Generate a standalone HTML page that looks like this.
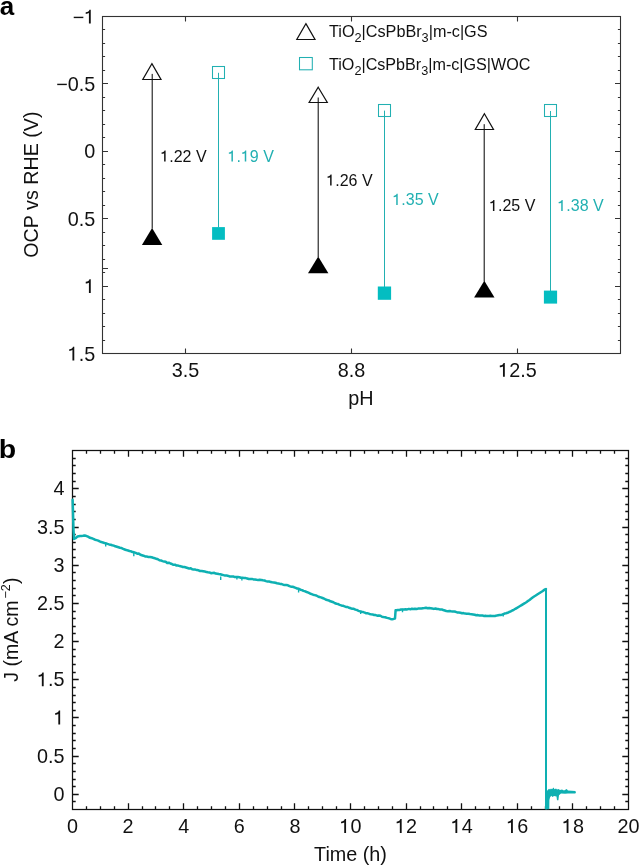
<!DOCTYPE html>
<html><head><meta charset="utf-8"><style>
html,body{margin:0;padding:0;background:#fff;width:639px;height:866px;overflow:hidden}
svg{display:block;font-family:"Liberation Sans", sans-serif;will-change:transform}
</style></head><body>
<svg width="639" height="866" viewBox="0 0 639 866">
<rect width="639" height="866" fill="#fff"/>
<rect x="102.5" y="16.5" width="518.0" height="337.0" fill="none" stroke="#333" stroke-width="1.1"/>
<path d="M102.5 29.50h2.6M620.5 29.50h-2.6M102.5 43.50h2.6M620.5 43.50h-2.6M102.5 56.50h2.6M620.5 56.50h-2.6M102.5 70.50h2.6M620.5 70.50h-2.6M102.5 83.50h5.5M620.5 83.50h-5.5M102.5 97.50h2.6M620.5 97.50h-2.6M102.5 110.50h2.6M620.5 110.50h-2.6M102.5 124.50h2.6M620.5 124.50h-2.6M102.5 137.50h2.6M620.5 137.50h-2.6M102.5 151.50h5.5M620.5 151.50h-5.5M102.5 164.50h2.6M620.5 164.50h-2.6M102.5 178.50h2.6M620.5 178.50h-2.6M102.5 191.50h2.6M620.5 191.50h-2.6M102.5 205.50h2.6M620.5 205.50h-2.6M102.5 218.50h5.5M620.5 218.50h-5.5M102.5 232.50h2.6M620.5 232.50h-2.6M102.5 245.50h2.6M620.5 245.50h-2.6M102.5 259.50h2.6M620.5 259.50h-2.6M102.5 272.50h2.6M620.5 272.50h-2.6M102.5 286.50h5.5M620.5 286.50h-5.5M102.5 299.50h2.6M620.5 299.50h-2.6M102.5 313.50h2.6M620.5 313.50h-2.6M102.5 326.50h2.6M620.5 326.50h-2.6M102.5 340.50h2.6M620.5 340.50h-2.6M102.5 268.5h5.5M185.5 353.5v-5M185.5 16.5v5M351.5 353.5v-5M351.5 16.5v5M517.5 353.5v-5M517.5 16.5v5" stroke="#333" stroke-width="1.1" fill="none"/>
<text x="95.2" y="23.5" font-size="19.8" text-anchor="end" fill="#111" font-weight="normal" >− </text>
<text x="95.2" y="90.9" font-size="19.8" text-anchor="end" fill="#111" font-weight="normal" >−0.5</text>
<text x="95.2" y="158.3" font-size="19.8" text-anchor="end" fill="#111" font-weight="normal" >0</text>
<text x="95.2" y="225.7" font-size="19.8" text-anchor="end" fill="#111" font-weight="normal" >0.5</text>
<text x="95.2" y="293.1" font-size="19.8" text-anchor="end" fill="#111" font-weight="normal" > </text>
<text x="95.2" y="360.5" font-size="19.8" text-anchor="end" fill="#111" font-weight="normal" > .5</text>
<text x="185.4" y="376.8" font-size="19.8" text-anchor="middle" fill="#111" font-weight="normal" >3.5</text>
<text x="351.5" y="376.8" font-size="19.8" text-anchor="middle" fill="#111" font-weight="normal" >8.8</text>
<text x="517.5" y="376.8" font-size="19.8" text-anchor="middle" fill="#111" font-weight="normal" > 2.5</text>
<text x="361.0" y="405.2" font-size="19.8" text-anchor="middle" fill="#111" font-weight="normal" >pH</text>
<text transform="translate(38.0 184.6) rotate(-90)" font-size="19.7" text-anchor="middle" fill="#111">OCP vs RHE (V)</text>
<text transform="translate(-0.3 15.0) scale(1.0 1)" font-size="26" font-weight="bold" fill="#000">a</text>
<path d="M152.2 73.9V228.5" stroke="#000" stroke-width="1"/>
<path d="M318.2 97.5V257" stroke="#000" stroke-width="1"/>
<path d="M484.2 124.2V281.5" stroke="#000" stroke-width="1"/>
<path d="M218.5 72.8V227.5" stroke="#22b0b2" stroke-width="1.05"/>
<path d="M384.5 110.6V287" stroke="#22b0b2" stroke-width="1.05"/>
<path d="M550.5 111.0V291" stroke="#22b0b2" stroke-width="1.05"/>
<path d="M151.9 63.6L161.0 79.5L142.8 79.5Z" fill="none" stroke="#111" stroke-width="1.2"/>
<path d="M318.2 87.2L327.3 102.5L309.09999999999997 102.5Z" fill="none" stroke="#111" stroke-width="1.2"/>
<path d="M484.4 113.80000000000001L493.5 129.5L475.29999999999995 129.5Z" fill="none" stroke="#111" stroke-width="1.2"/>
<path d="M152.1 227.9L162.29999999999998 245.1L141.9 245.1Z" fill="#000"/>
<path d="M318.2 256.4L328.4 273.2L308.0 273.2Z" fill="#000"/>
<path d="M484.3 280.7L494.5 297.6L474.1 297.6Z" fill="#000"/>
<rect x="212.5" y="66.5" width="12.0" height="12.0" fill="none" stroke="#22b0b2" stroke-width="1.05"/>
<rect x="378.5" y="104.5" width="12.0" height="12.0" fill="none" stroke="#22b0b2" stroke-width="1.05"/>
<rect x="544.5" y="104.5" width="12.0" height="12.0" fill="none" stroke="#22b0b2" stroke-width="1.05"/>
<rect x="212.1" y="227.1" width="12.800000000000011" height="12.700000000000017" fill="#04bdc1"/>
<rect x="377.8" y="286.5" width="13.300000000000011" height="13.300000000000011" fill="#04bdc1"/>
<rect x="543.9" y="290.6" width="13.200000000000045" height="13.0" fill="#04bdc1"/>
<text x="160.29999999999998" y="161.6" font-size="16" text-anchor="start" fill="#111" font-weight="normal" > .22 V</text>
<text x="227.6" y="161.6" font-size="16" text-anchor="start" fill="#22b0b2" font-weight="normal" > . 9 V</text>
<text x="326.3" y="185.6" font-size="16" text-anchor="start" fill="#111" font-weight="normal" > .26 V</text>
<text x="392.4" y="205.0" font-size="16" text-anchor="start" fill="#22b0b2" font-weight="normal" > .35 V</text>
<text x="489.09999999999997" y="211.1" font-size="16" text-anchor="start" fill="#111" font-weight="normal" > .25 V</text>
<text x="557.4000000000001" y="211.1" font-size="16" text-anchor="start" fill="#22b0b2" font-weight="normal" > .38 V</text>
<path d="M305.9 23.599999999999998L315.0 39.5L296.79999999999995 39.5Z" fill="none" stroke="#111" stroke-width="1.2"/>
<rect x="299.5" y="57.5" width="12.800000000000011" height="12.299999999999997" fill="none" stroke="#22b0b2" stroke-width="1.05"/>
<text x="329.0" y="37.0" font-size="16.3" fill="#111" textLength="158.5" lengthAdjust="spacingAndGlyphs">TiO<tspan font-size="12.8" dy="4.6">2</tspan><tspan dy="-4.6">|CsPbBr</tspan><tspan font-size="12.8" dy="4.6">3</tspan><tspan dy="-4.6">|m-c|GS</tspan></text>
<text x="329.0" y="69.9" font-size="16.3" fill="#111" textLength="201.5" lengthAdjust="spacingAndGlyphs">TiO<tspan font-size="12.8" dy="4.6">2</tspan><tspan dy="-4.6">|CsPbBr</tspan><tspan font-size="12.8" dy="4.6">3</tspan><tspan dy="-4.6">|m-c|GS|WOC</tspan></text>
<rect x="72.5" y="450.5" width="556.0" height="359.0" fill="none" stroke="#111" stroke-width="1.25"/>
<path d="M72.5 801.50h3.2M628.5 801.50h-3.2M72.5 794.50h6.2M628.5 794.50h-6.2M72.5 786.50h3.2M628.5 786.50h-3.2M72.5 779.50h3.2M628.5 779.50h-3.2M72.5 771.50h3.2M628.5 771.50h-3.2M72.5 763.50h3.2M628.5 763.50h-3.2M72.5 756.50h6.2M628.5 756.50h-6.2M72.5 748.50h3.2M628.5 748.50h-3.2M72.5 740.50h3.2M628.5 740.50h-3.2M72.5 733.50h3.2M628.5 733.50h-3.2M72.5 725.50h3.2M628.5 725.50h-3.2M72.5 717.50h6.2M628.5 717.50h-6.2M72.5 710.50h3.2M628.5 710.50h-3.2M72.5 702.50h3.2M628.5 702.50h-3.2M72.5 695.50h3.2M628.5 695.50h-3.2M72.5 687.50h3.2M628.5 687.50h-3.2M72.5 679.50h6.2M628.5 679.50h-6.2M72.5 672.50h3.2M628.5 672.50h-3.2M72.5 664.50h3.2M628.5 664.50h-3.2M72.5 656.50h3.2M628.5 656.50h-3.2M72.5 649.50h3.2M628.5 649.50h-3.2M72.5 641.50h6.2M628.5 641.50h-6.2M72.5 633.50h3.2M628.5 633.50h-3.2M72.5 626.50h3.2M628.5 626.50h-3.2M72.5 618.50h3.2M628.5 618.50h-3.2M72.5 611.50h3.2M628.5 611.50h-3.2M72.5 603.50h6.2M628.5 603.50h-6.2M72.5 595.50h3.2M628.5 595.50h-3.2M72.5 588.50h3.2M628.5 588.50h-3.2M72.5 580.50h3.2M628.5 580.50h-3.2M72.5 572.50h3.2M628.5 572.50h-3.2M72.5 565.50h6.2M628.5 565.50h-6.2M72.5 557.50h3.2M628.5 557.50h-3.2M72.5 549.50h3.2M628.5 549.50h-3.2M72.5 542.50h3.2M628.5 542.50h-3.2M72.5 534.50h3.2M628.5 534.50h-3.2M72.5 527.50h6.2M628.5 527.50h-6.2M72.5 519.50h3.2M628.5 519.50h-3.2M72.5 511.50h3.2M628.5 511.50h-3.2M72.5 504.50h3.2M628.5 504.50h-3.2M72.5 496.50h3.2M628.5 496.50h-3.2M72.5 488.50h6.2M628.5 488.50h-6.2M72.5 481.50h3.2M628.5 481.50h-3.2M72.5 473.50h3.2M628.5 473.50h-3.2M72.5 465.50h3.2M628.5 465.50h-3.2M72.5 458.50h3.2M628.5 458.50h-3.2M86.50 809.5v-3.2M86.50 450.5v3.2M100.50 809.5v-3.2M100.50 450.5v3.2M114.50 809.5v-3.2M114.50 450.5v3.2M128.50 809.5v-6.2M128.50 450.5v6.2M142.50 809.5v-3.2M142.50 450.5v3.2M155.50 809.5v-3.2M155.50 450.5v3.2M169.50 809.5v-3.2M169.50 450.5v3.2M183.50 809.5v-6.2M183.50 450.5v6.2M197.50 809.5v-3.2M197.50 450.5v3.2M211.50 809.5v-3.2M211.50 450.5v3.2M225.50 809.5v-3.2M225.50 450.5v3.2M239.50 809.5v-6.2M239.50 450.5v6.2M253.50 809.5v-3.2M253.50 450.5v3.2M267.50 809.5v-3.2M267.50 450.5v3.2M281.50 809.5v-3.2M281.50 450.5v3.2M294.50 809.5v-6.2M294.50 450.5v6.2M308.50 809.5v-3.2M308.50 450.5v3.2M322.50 809.5v-3.2M322.50 450.5v3.2M336.50 809.5v-3.2M336.50 450.5v3.2M350.50 809.5v-6.2M350.50 450.5v6.2M364.50 809.5v-3.2M364.50 450.5v3.2M378.50 809.5v-3.2M378.50 450.5v3.2M392.50 809.5v-3.2M392.50 450.5v3.2M406.50 809.5v-6.2M406.50 450.5v6.2M420.50 809.5v-3.2M420.50 450.5v3.2M433.50 809.5v-3.2M433.50 450.5v3.2M447.50 809.5v-3.2M447.50 450.5v3.2M461.50 809.5v-6.2M461.50 450.5v6.2M475.50 809.5v-3.2M475.50 450.5v3.2M489.50 809.5v-3.2M489.50 450.5v3.2M503.50 809.5v-3.2M503.50 450.5v3.2M517.50 809.5v-6.2M517.50 450.5v6.2M531.50 809.5v-3.2M531.50 450.5v3.2M545.50 809.5v-3.2M545.50 450.5v3.2M559.50 809.5v-3.2M559.50 450.5v3.2M572.50 809.5v-6.2M572.50 450.5v6.2M586.50 809.5v-3.2M586.50 450.5v3.2M600.50 809.5v-3.2M600.50 450.5v3.2M614.50 809.5v-3.2M614.50 450.5v3.2" stroke="#111" stroke-width="1.3" fill="none"/>
<text x="64.6" y="800.8" font-size="19.8" text-anchor="end" fill="#111" font-weight="normal" >0</text>
<text x="64.6" y="762.625" font-size="19.8" text-anchor="end" fill="#111" font-weight="normal" >0.5</text>
<text x="64.6" y="724.4499999999999" font-size="19.8" text-anchor="end" fill="#111" font-weight="normal" > </text>
<text x="64.6" y="686.275" font-size="19.8" text-anchor="end" fill="#111" font-weight="normal" > .5</text>
<text x="64.6" y="648.0999999999999" font-size="19.8" text-anchor="end" fill="#111" font-weight="normal" >2</text>
<text x="64.6" y="609.925" font-size="19.8" text-anchor="end" fill="#111" font-weight="normal" >2.5</text>
<text x="64.6" y="571.75" font-size="19.8" text-anchor="end" fill="#111" font-weight="normal" >3</text>
<text x="64.6" y="533.575" font-size="19.8" text-anchor="end" fill="#111" font-weight="normal" >3.5</text>
<text x="64.6" y="495.4" font-size="19.8" text-anchor="end" fill="#111" font-weight="normal" >4</text>
<text x="72.5" y="832.9" font-size="19.8" text-anchor="middle" fill="#111" font-weight="normal" >0</text>
<text x="128.1" y="832.9" font-size="19.8" text-anchor="middle" fill="#111" font-weight="normal" >2</text>
<text x="183.7" y="832.9" font-size="19.8" text-anchor="middle" fill="#111" font-weight="normal" >4</text>
<text x="239.3" y="832.9" font-size="19.8" text-anchor="middle" fill="#111" font-weight="normal" >6</text>
<text x="294.9" y="832.9" font-size="19.8" text-anchor="middle" fill="#111" font-weight="normal" >8</text>
<text x="350.5" y="832.9" font-size="19.8" text-anchor="middle" fill="#111" font-weight="normal" > 0</text>
<text x="406.1" y="832.9" font-size="19.8" text-anchor="middle" fill="#111" font-weight="normal" > 2</text>
<text x="461.7" y="832.9" font-size="19.8" text-anchor="middle" fill="#111" font-weight="normal" > 4</text>
<text x="517.3" y="832.9" font-size="19.8" text-anchor="middle" fill="#111" font-weight="normal" > 6</text>
<text x="572.9" y="832.9" font-size="19.8" text-anchor="middle" fill="#111" font-weight="normal" > 8</text>
<text x="628.5" y="832.9" font-size="19.8" text-anchor="middle" fill="#111" font-weight="normal" >20</text>
<text x="350.5" y="861.4" font-size="19.8" text-anchor="middle" fill="#111" font-weight="normal" >Time (h)</text>
<text transform="translate(18.4 629.6) rotate(-90)" font-size="19.5" text-anchor="middle" fill="#111">J (mA cm<tspan font-size="12.5" dy="-8.2" dx="1.8">−2</tspan><tspan dy="8.2" dx="0.3">)</tspan></text>
<text transform="translate(-1.3 457.6) scale(1.07 1)" font-size="26.6" font-weight="bold" fill="#000">b</text>
<path d="M72.6 499.8L73.0 512.0L73.5 530.0L74.0 539.0L75.5 538.2L77.5 536.6L80.0 536.1L81.5 535.9L83.0 535.8L84.5 535.5L86.0 535.8L88.0 536.7L90.0 537.8L91.7 538.2L93.3 538.8L95.0 539.7L96.6 540.1L98.2 540.6L99.7 541.4L101.3 542.1L102.8 542.4L104.4 543.0L106.0 543.3L107.5 543.9L109.1 544.4L110.7 544.7L112.2 545.2L113.8 545.6L115.3 546.3L116.9 546.8L118.5 547.3L120.0 547.8L121.6 548.1L123.2 548.9L124.7 549.5L126.3 550.1L127.9 550.4L129.4 551.0L131.0 551.3L132.6 552.1L134.2 552.3L135.7 552.9L137.2 553.7L138.8 553.6L140.4 554.7L141.9 555.2L143.5 555.7L145.1 556.4L146.7 556.6L148.4 556.9L150.0 557.0L151.6 557.3L153.2 557.8L154.7 558.2L156.3 558.8L157.9 559.3L159.4 560.2L160.9 560.4L162.5 561.1L164.1 561.6L165.7 561.8L167.2 563.0L168.8 562.7L170.4 563.5L171.9 564.0L173.4 564.8L175.0 564.7L176.6 565.6L178.2 565.6L179.7 566.1L181.3 566.4L182.9 567.0L184.4 567.0L186.0 567.5L187.6 568.0L189.2 568.6L190.7 568.2L192.2 569.3L193.8 569.6L195.4 569.6L196.9 570.1L198.5 570.3L200.1 571.0L201.7 571.0L203.2 571.3L204.8 571.6L206.3 571.9L207.9 572.2L209.4 572.4L211.0 573.2L212.6 572.9L214.2 572.8L215.7 573.6L217.2 573.8L218.8 574.1L220.4 574.3L221.9 574.7L223.5 575.1L225.1 575.6L226.7 575.6L228.4 575.9L230.0 576.6L231.6 576.5L233.2 576.4L234.7 577.1L236.3 577.0L237.9 577.0L239.4 577.2L240.9 577.7L242.5 577.8L244.1 577.9L245.7 578.1L247.2 578.5L248.8 579.0L250.4 578.9L251.9 578.9L253.4 579.4L255.0 579.4L256.6 579.7L258.1 579.9L259.7 579.8L261.3 580.0L262.9 580.3L264.5 580.5L266.0 581.1L267.6 581.5L269.2 581.6L270.7 581.9L272.2 582.2L273.8 582.4L275.4 582.7L277.0 583.2L278.5 583.5L280.1 583.9L281.7 584.1L283.2 584.7L284.8 585.0L286.3 585.1L287.9 585.3L289.5 586.1L291.0 586.7L292.6 586.8L294.2 587.3L295.7 587.9L297.2 588.6L298.8 588.8L300.4 589.7L302.0 590.1L303.5 590.9L305.1 591.3L306.7 592.0L308.4 592.6L310.0 593.5L311.6 594.1L313.1 594.7L314.7 595.1L316.3 595.5L317.9 596.3L319.4 597.0L320.9 597.4L322.5 598.0L324.1 598.7L325.6 599.5L327.2 600.1L328.8 600.4L330.4 601.3L331.9 601.8L333.4 602.3L335.0 603.3L336.6 603.8L338.1 604.1L339.7 604.8L341.3 605.4L342.9 605.7L344.5 606.3L346.0 606.9L347.6 607.0L349.2 607.8L350.7 608.3L352.2 608.7L353.8 608.8L355.4 609.6L357.0 610.0L358.5 610.8L360.1 611.4L361.7 611.8L363.2 612.1L364.8 612.6L366.3 613.3L367.9 613.3L369.5 613.9L371.0 614.2L372.6 614.4L374.2 615.1L375.7 615.1L377.2 615.7L378.8 615.4L380.4 615.7L382.0 616.7L383.5 617.0L385.1 617.2L387.1 617.9L389.0 618.3L390.5 618.9L392.0 619.2L393.5 618.9L395.0 618.5L395.6 610.3L396.3 610.2L397.9 609.9L399.4 609.9L400.9 609.6L402.5 609.5L404.1 609.5L405.6 609.3L407.2 609.4L408.8 608.9L410.4 609.3L411.9 608.7L413.4 609.0L415.0 608.7L416.6 609.0L418.1 608.6L419.7 608.6L421.3 608.5L422.9 608.2L424.5 608.1L426.0 607.8L427.6 608.3L429.2 608.1L430.7 608.2L432.2 608.5L433.8 608.9L435.4 608.5L437.0 609.0L438.5 609.1L440.1 609.5L441.7 609.4L443.2 610.0L444.8 610.5L446.3 611.0L447.9 611.2L449.5 611.0L451.0 611.3L452.6 611.5L454.2 611.5L455.7 611.8L457.2 612.4L458.8 612.5L460.4 612.7L462.0 613.2L463.5 613.1L465.1 613.6L466.7 613.7L468.4 613.8L470.0 614.1L471.6 614.3L473.1 614.5L474.7 614.8L476.3 615.3L477.9 615.1L479.4 615.5L480.9 615.6L482.5 615.6L484.1 615.9L485.6 615.7L487.2 616.1L488.8 615.9L490.4 615.8L491.9 615.9L493.4 615.9L495.0 615.9L496.6 615.6L498.1 615.2L499.7 614.9L501.3 614.9L502.9 614.4L504.5 613.6L506.0 613.3L507.6 612.8L509.1 612.0L510.7 611.3L512.2 610.5L513.8 609.8L515.4 608.8L517.0 607.9L518.5 607.0L520.1 606.0L521.6 605.1L523.2 604.1L524.8 603.2L526.3 602.3L527.9 601.1L529.5 599.9L531.0 598.7L532.6 597.5L534.1 596.5L535.7 595.5L537.2 594.5L538.8 593.5L540.4 592.5L542.0 591.5L543.5 590.4L545.1 589.4L545.9 589.0" fill="none" stroke="#0eb0b2" stroke-width="2.5" stroke-linejoin="round" stroke-linecap="round"/>
<rect x="545" y="588.4" width="2" height="221" fill="#0eb0b2"/>
<path d="M105.7 543.0V546.5M133.8 552.8V556.3M220.7 576.5V580.0M236.9 575.9V579.4M241.9 577.1V580.6M298.6 589.0V592.5M360.7 610.5V614.0M402.5 608.7V612.2M503.2 613.0V616.5" fill="none" stroke="#0eb0b2" stroke-width="1.4"/>
<path d="M546.2 792.0L547.5 790.2L549.0 788.8L550.0 789.6L551.0 788.4L552.0 789.3L553.5 787.4L554.5 789.2L556.0 788.6L557.0 789.6L558.5 789.0L560.0 790.0L562.0 789.6L564.0 790.5L566.7 789.0L568.0 790.5L572.0 790.7L575.3 790.9L576.0 792.2L575.3 793.5L572.0 793.6L568.0 793.4L565.0 793.8L561.0 793.6L559.0 795.2L558.4 800.2L557.0 800.2L556.5 796.4L554.0 796.0L552.5 797.0L551.2 795.8L550.0 797.5L549.4 800.0L549.3 809.3L546.2 809.3Z" fill="#0eb0b2"/>
<g><path transform="translate(84.18 23.50) scale(0.00967 -0.00967)" d="M490 0L680 0L680 1430L545 1430C515 1300 400 1185 160 1165L160 995C300 995 420 1025 490 1075Z" fill="#111"/><path transform="translate(84.18 293.10) scale(0.00967 -0.00967)" d="M490 0L680 0L680 1430L545 1430C515 1300 400 1185 160 1165L160 995C300 995 420 1025 490 1075Z" fill="#111"/><path transform="translate(67.70 360.50) scale(0.00967 -0.00967)" d="M490 0L680 0L680 1430L545 1430C515 1300 400 1185 160 1165L160 995C300 995 420 1025 490 1075Z" fill="#111"/><path transform="translate(498.24 376.80) scale(0.00967 -0.00967)" d="M490 0L680 0L680 1430L545 1430C515 1300 400 1185 160 1165L160 995C300 995 420 1025 490 1075Z" fill="#111"/><path transform="translate(160.30 161.60) scale(0.00781 -0.00781)" d="M490 0L680 0L680 1430L545 1430C515 1300 400 1185 160 1165L160 995C300 995 420 1025 490 1075Z" fill="#111"/><path transform="translate(227.60 161.60) scale(0.00781 -0.00781)" d="M490 0L680 0L680 1430L545 1430C515 1300 400 1185 160 1165L160 995C300 995 420 1025 490 1075Z" fill="#22b0b2"/><path transform="translate(240.94 161.60) scale(0.00781 -0.00781)" d="M490 0L680 0L680 1430L545 1430C515 1300 400 1185 160 1165L160 995C300 995 420 1025 490 1075Z" fill="#22b0b2"/><path transform="translate(326.30 185.60) scale(0.00781 -0.00781)" d="M490 0L680 0L680 1430L545 1430C515 1300 400 1185 160 1165L160 995C300 995 420 1025 490 1075Z" fill="#111"/><path transform="translate(392.40 205.00) scale(0.00781 -0.00781)" d="M490 0L680 0L680 1430L545 1430C515 1300 400 1185 160 1165L160 995C300 995 420 1025 490 1075Z" fill="#22b0b2"/><path transform="translate(489.10 211.10) scale(0.00781 -0.00781)" d="M490 0L680 0L680 1430L545 1430C515 1300 400 1185 160 1165L160 995C300 995 420 1025 490 1075Z" fill="#111"/><path transform="translate(557.40 211.10) scale(0.00781 -0.00781)" d="M490 0L680 0L680 1430L545 1430C515 1300 400 1185 160 1165L160 995C300 995 420 1025 490 1075Z" fill="#22b0b2"/><path transform="translate(53.58 724.45) scale(0.00967 -0.00967)" d="M490 0L680 0L680 1430L545 1430C515 1300 400 1185 160 1165L160 995C300 995 420 1025 490 1075Z" fill="#111"/><path transform="translate(37.10 686.28) scale(0.00967 -0.00967)" d="M490 0L680 0L680 1430L545 1430C515 1300 400 1185 160 1165L160 995C300 995 420 1025 490 1075Z" fill="#111"/><path transform="translate(339.49 832.90) scale(0.00967 -0.00967)" d="M490 0L680 0L680 1430L545 1430C515 1300 400 1185 160 1165L160 995C300 995 420 1025 490 1075Z" fill="#111"/><path transform="translate(395.09 832.90) scale(0.00967 -0.00967)" d="M490 0L680 0L680 1430L545 1430C515 1300 400 1185 160 1165L160 995C300 995 420 1025 490 1075Z" fill="#111"/><path transform="translate(450.69 832.90) scale(0.00967 -0.00967)" d="M490 0L680 0L680 1430L545 1430C515 1300 400 1185 160 1165L160 995C300 995 420 1025 490 1075Z" fill="#111"/><path transform="translate(506.29 832.90) scale(0.00967 -0.00967)" d="M490 0L680 0L680 1430L545 1430C515 1300 400 1185 160 1165L160 995C300 995 420 1025 490 1075Z" fill="#111"/><path transform="translate(561.89 832.90) scale(0.00967 -0.00967)" d="M490 0L680 0L680 1430L545 1430C515 1300 400 1185 160 1165L160 995C300 995 420 1025 490 1075Z" fill="#111"/></g>
</svg>
</body></html>
